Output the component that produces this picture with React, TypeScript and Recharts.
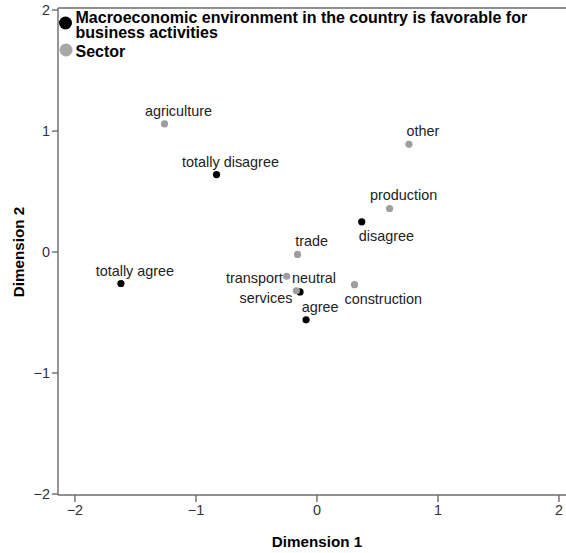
import React from 'react'
import { ScatterChart, Scatter, XAxis, YAxis, ReferenceLine, Label } from 'recharts'

const macroNames = ['totally disagree', 'disagree', 'neutral', 'agree', 'totally agree']
const macroX = [-0.83, 0.37, -0.14, -0.09, -1.62]
const macroY = [0.64, 0.25, -0.33, -0.56, -0.26]

const sectorNames = ['agriculture', 'other', 'production', 'trade', 'transport', 'services', 'construction']
const sectorX = [-1.26, 0.76, 0.6, -0.16, -0.25, -0.17, 0.31]
const sectorY = [1.06, 0.89, 0.36, -0.02, -0.2, -0.32, -0.27]

const axisTicks = [-2, -1, 0, 1, 2]

const X_DOMAIN: [number, number] = [-2.14, 2.058]
const Y_DOMAIN: [number, number] = [-2.008, 2.017]

const FONT = '"Liberation Sans", Arial, sans-serif'
const BLACK = '#000000'
const GRAY = '#9e9e9e'
const AXIS = '#6b6b6b'
const LABEL_SIZE = 14.4

// label placement around each point (text anchor + offset from the dot)
const labelPlacement: Record<string, { anchor: 'start' | 'middle' | 'end'; dx: number; dy: number }> = {
  disagree: { anchor: 'start', dx: -3, dy: 14 },
  construction: { anchor: 'start', dx: -10, dy: 14 },
  transport: { anchor: 'end', dx: -4, dy: 2 },
  neutral: { anchor: 'start', dx: -8, dy: -14 },
  services: { anchor: 'end', dx: -4, dy: 7 },
}
const defaultPlacement = { anchor: 'middle' as const, dx: 14, dy: -13 }

const macroData = macroNames.map((name, i) => ({ name, x: macroX[i], y: macroY[i] }))
const sectorData = sectorNames.map((name, i) => ({ name, x: sectorX[i], y: sectorY[i] }))

const fmt = (v: number) => (v < 0 ? '\u2212' + Math.abs(v) : String(v))

function makeDot(color: string) {
  return (props: any) => {
    const { cx, cy, payload } = props
    const p = labelPlacement[payload.name] || defaultPlacement
    return (
      <g>
        <circle cx={cx} cy={cy} r={3.6} fill={color} />
        <text
          x={cx + p.dx}
          y={cy + p.dy}
          textAnchor={p.anchor}
          dominantBaseline="central"
          fontFamily={FONT}
          fontSize={LABEL_SIZE}
          fill="#222"
        >
          {payload.name}
        </text>
      </g>
    )
  }
}

function LegendBox() {
  const txt = { fontFamily: FONT, fontWeight: 'bold' as const, fontSize: 16, fill: '#000' }
  return (
    <svg width={566} height={70} style={{ position: 'absolute', left: 0, top: 0, pointerEvents: 'none' }}>
      <circle cx={65.5} cy={23} r={6.5} fill={BLACK} />
      <text x={75.5} y={23} {...txt}>
        Macroeconomic environment in the country is favorable for
      </text>
      <text x={75.5} y={38} {...txt}>
        business activities
      </text>
      <circle cx={66} cy={50} r={6.5} fill="#a8a8a8" />
      <text x={75.5} y={57} {...txt}>
        Sector
      </text>
    </svg>
  )
}

export default function App() {
  return (
    <div style={{ position: 'absolute', left: 0, top: 0, width: 566, height: 553, background: '#fff' }}>
      <ScatterChart width={566} height={553} margin={{ top: 8, right: 0, bottom: 0, left: 0 }}>
        <XAxis
          type="number"
          dataKey="x"
          domain={X_DOMAIN}
          ticks={axisTicks}
          allowDataOverflow
          height={58}
          tickFormatter={fmt}
          tickSize={7}
          tickMargin={3}
          stroke={AXIS}
          strokeWidth={1.4}
          tick={{ fill: '#333', fontSize: LABEL_SIZE, fontFamily: FONT }}
        >
          <Label
            value="Dimension 1"
            position="insideBottom"
            offset={6}
            dx={5}
            style={{ fontFamily: FONT, fontWeight: 'bold', fontSize: 15.2, fill: '#000' }}
          />
        </XAxis>
        <YAxis
          type="number"
          dataKey="y"
          domain={Y_DOMAIN}
          ticks={axisTicks}
          allowDataOverflow
          width={58}
          tickFormatter={fmt}
          tickSize={6}
          tickMargin={2}
          stroke={AXIS}
          strokeWidth={1.4}
          tick={{ fill: '#333', fontSize: LABEL_SIZE, fontFamily: FONT }}
        >
          <Label
            content={() => (
              <text
                x={18}
                y={252}
                transform="rotate(-90 18 252)"
                textAnchor="middle"
                dominantBaseline="central"
                fontFamily={FONT}
                fontWeight="bold"
                fontSize={15.2}
                fill="#000"
              >
                Dimension 2
              </text>
            )}
          />
        </YAxis>
        <ReferenceLine y={Y_DOMAIN[1]} stroke={AXIS} strokeWidth={1.4} ifOverflow="visible" />
        <Scatter name="macro" data={macroData} fill={BLACK} shape={makeDot(BLACK)} isAnimationActive={false} />
        <Scatter name="sector" data={sectorData} fill={GRAY} shape={makeDot(GRAY)} isAnimationActive={false} />
      </ScatterChart>
      <LegendBox />
    </div>
  )
}
